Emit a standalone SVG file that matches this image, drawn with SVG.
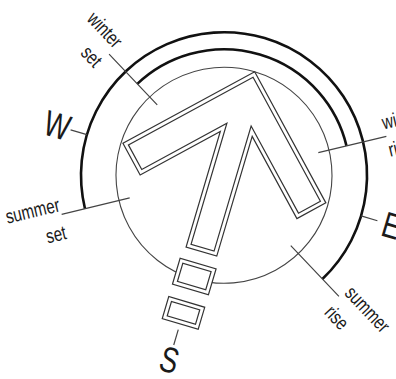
<svg xmlns="http://www.w3.org/2000/svg" width="396" height="379" viewBox="0 0 396 379">
<style>
.arc{fill:none;stroke:#111;stroke-width:2.6}
.thin{fill:none;stroke:#444;stroke-width:1.1}
.tick{fill:none;stroke:#444;stroke-width:1.2}
.outl{fill:#fff;stroke:#333;stroke-width:1.2;stroke-linejoin:miter}
.inl{fill:none;stroke:#333;stroke-width:1.2;stroke-linejoin:miter}
.lbl{font-family:"Liberation Sans",Arial,sans-serif;font-size:20px;fill:#1a1a1a}
.dir{font-family:"Liberation Sans",Arial,sans-serif;font-size:36px;fill:#1a1a1a;text-anchor:middle}
</style>
<rect width="396" height="379" fill="#fff"/>
<g transform="translate(224,175.3) rotate(16.5)">
  <g id="connectors">
    <path class="arc" d="M -123.8 71.5 A 143 143 0 1 1 123.8 71.5"/>
    <path class="arc" d="M -109.1 -63 A 126 126 0 0 1 109.1 -63"/>
    <path class="tick" d="M -160 0 H -143 M 143 0 H 160 M 0 161 V 177"/>
    <path class="tick" d="M -84 -48.5 L -144.6 -83.5 M 84 -48.5 L 144.6 -83.5 M 84 48.5 L 144.6 83.5 M -84 48.5 L -144.6 83.5"/>
  </g>
  <g id="circle">
    <circle class="thin" cx="0" cy="0" r="108"/>
  </g>
  <g id="arrow">
    <path class="outl" d="M 0 -108 L 105.5 -2.5 L 82.2 20.8 L 16 -45.3 L 16 79.5 L -16 79.5 L -16 -41 L -80.5 23.5 L -106 -2 Z"/>
    <path class="inl" d="M 0 -102.3 L 99.8 -2.5 L 82.15 15.15 L 12 -55 L 12 75.5 L -12 75.5 L -12 -50.7 L -80.5 17.8 L -100.3 -2 Z"/>
  </g>
  <g id="box1">
    <rect class="outl" x="-18.5" y="92" width="37.5" height="27"/>
    <rect class="inl" x="-14.5" y="96" width="29.5" height="19"/>
  </g>
  <g id="box2">
    <rect class="outl" x="-18.5" y="132" width="37.5" height="23"/>
    <rect class="inl" x="-14.5" y="136" width="29.5" height="15"/>
  </g>
  <g id="dir-W"><text class="dir" transform="translate(-174,12) scale(0.75,1)">W</text></g>
  <g id="dir-E"><text class="dir" transform="translate(175,13) scale(0.75,1)">E</text></g>
  <g id="dir-S"><text class="dir" transform="translate(0,205) scale(0.75,1)">S</text></g>
</g>
<g id="label-winter-set" transform="translate(110,53) rotate(46.5) scale(0.76,1)">
  <text class="lbl" text-anchor="end" x="0" y="-5.5">winter</text>
  <text class="lbl" text-anchor="end" x="0" y="22.5">set</text>
</g>
<g id="label-summer-set" transform="translate(62.7,215.7) rotate(-13.5) scale(0.76,1)">
  <text class="lbl" text-anchor="end" x="-1" y="-5">summer</text>
  <text class="lbl" text-anchor="end" x="-1" y="23.5">set</text>
</g>
<g id="label-summer-rise" transform="translate(339.3,297.3) rotate(46.5) scale(0.76,1)">
  <text class="lbl" x="1" y="-5.5">summer</text>
  <text class="lbl" x="1" y="22.5">rise</text>
</g>
<g id="label-winter-rise" transform="translate(386.7,135) rotate(-13.5) scale(0.76,1)">
  <text class="lbl" x="-2" y="-6">winter</text>
  <text class="lbl" x="-2" y="22">rise</text>
</g>
</svg>
